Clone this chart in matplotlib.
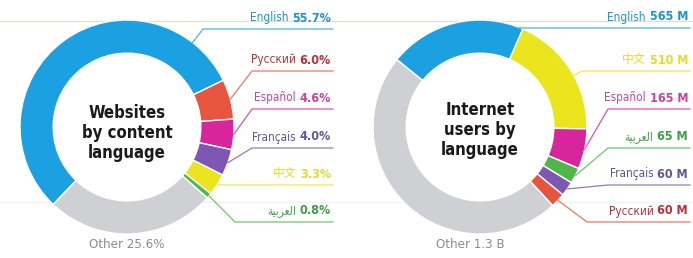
import numpy as np
import matplotlib
matplotlib.use('Agg')
import matplotlib.pyplot as plt

# data
web_langs = ['English', 'Русский', 'Español', 'Français', '中文', 'ﺔﻴﺑﺮﻌﻟﺍ', 'Other']
web_share = [55.7, 6.0, 4.6, 4.0, 3.3, 0.8, 25.6]
web_text = ['55.7%', '6.0%', '4.6%', '4.0%', '3.3%', '0.8%', '25.6%']

user_langs = ['English', '中文', 'Español', 'ﺔﻴﺑﺮﻌﻟﺍ', 'Français', 'Русский', 'Other']
user_mill = [565, 510, 165, 65, 60, 60, 1300]
user_text = ['565 M', '510 M', '165 M', '65 M', '60 M', '60 M', '1.3 B']

colors = {'English': '#1ba1e2', 'Русский': '#e8553e', 'Español': '#d9259b',
          'Français': '#7e57b5', '中文': '#eae51c', 'ﺔﻴﺑﺮﻌﻟﺍ': '#4db848',
          'Other': '#cfd0d3'}
txt_colors = {'English': '#1a95d2', 'Русский': '#b8303a', 'Español': '#c8449c',
              'Français': '#5e5799', '中文': '#e2dc2a', 'ﺔﻴﺑﺮﻌﻟﺍ': '#3f9e45'}

FONT = ['DejaVu Sans', 'Noto Sans CJK SC']
plt.rcParams['font.family'] = FONT
plt.rcParams['font.stretch'] = 'condensed'

W, H = 693, 258
fig = plt.figure(figsize=(W / 100, H / 100), dpi=100)
ax = fig.add_axes([0, 0, 1, 1])


def py(y):
    return H - y


def donut(cx, cy, r, vals, langs, start):
    wedges, _ = ax.pie(vals, colors=[colors[l] for l in langs], startangle=start,
                       counterclock=False, radius=r, center=(cx, py(cy)),
                       wedgeprops=dict(width=r * 0.31, edgecolor='white', linewidth=1.0))
    return wedges


def labels(cx, cy, r, wedges, langs, vals_txt, ys, elbows, right):
    for w, lang, vt, y, ex in zip(wedges, langs, vals_txt, ys, elbows):
        if lang == 'Other':
            continue
        t1, t2 = w.theta1, w.theta2
        ly = py(y + 11)
        if t2 - t1 > 40:
            ang = np.degrees(np.arctan2(ly - py(cy), ex - cx))
            ang = np.clip(ang, t1 + 2, t2 - 2)
        else:
            ang = (t1 + t2) / 2
        axp = cx + r * np.cos(np.radians(ang))
        ayp = py(cy) + r * np.sin(np.radians(ang))
        c = colors[lang]
        ax.plot([axp, ex, right + 2], [ayp, ly, ly], color=c, lw=0.9, alpha=0.8)
        tc = txt_colors[lang]
        v = ax.text(right, py(y), vt, ha='right', va='center', fontsize=9,
                    fontweight='bold', color=tc)
        fig.canvas.draw()
        bb = v.get_window_extent().transformed(ax.transData.inverted())
        ax.text(bb.x0 - 4, py(y), lang, ha='right', va='center', fontsize=8.5,
                color=tc)


w1 = donut(127, 127, 107, web_share, web_langs, 226.4)
w2 = donut(480, 127, 107, user_mill, user_langs, 141)
ax.set_xlim(0, W)
ax.set_ylim(0, H)
ax.set_aspect('auto')
ax.axis('off')

# faint scan lines
ax.plot([0, W], [py(21), py(21)], color='#e6dcc8', lw=0.8, zorder=0)
ax.plot([0, W], [py(202), py(202)], color='#f0f0f0', lw=0.8, zorder=0)

labels(127, 127, 107, w1, web_langs, web_text,
       [18, 60, 98, 137, 174, 211], [203, 252, 252, 252, 225, 235], 331)
labels(480, 127, 107, w2, user_langs, user_text,
       [17, 60, 98, 137, 174, 211], [522, 582, 608, 608, 608, 587], 688)

ax.text(127, py(133), 'Websites\nby content\nlanguage', ha='center', va='center',
        fontsize=12, fontweight='heavy', color='#1a1a1a', linespacing=1.12)
ax.text(480, py(130), 'Internet\nusers by\nlanguage', ha='center', va='center',
        fontsize=12, fontweight='heavy', color='#1a1a1a', linespacing=1.12)
ax.text(127, py(244), 'Other ' + web_text[-1], ha='center', va='center',
        fontsize=9.5, color='#8c8c8c')
ax.text(470, py(244), 'Other ' + user_text[-1], ha='center', va='center',
        fontsize=9.5, color='#8c8c8c')

fig.savefig('out.png', dpi=100, facecolor='white')
